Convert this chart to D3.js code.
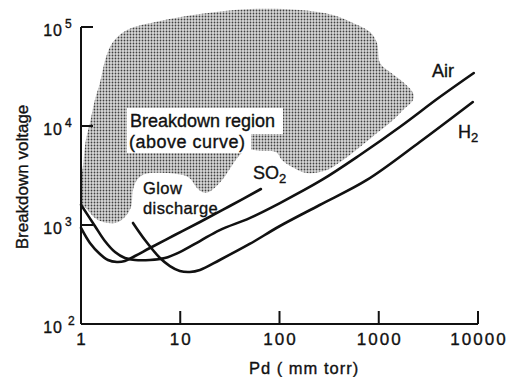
<!DOCTYPE html>
<html>
<head>
<meta charset="utf-8">
<script src="https://cdn.jsdelivr.net/npm/d3@7"></script>
<style>
  body { margin: 0; background: #fff; }
  svg { display: block; font-family: "Liberation Sans", Arial, sans-serif; }
  text { fill: #111; stroke: #111; stroke-width: 0.35px; }
</style>
</head>
<body>
<svg id="chart" width="511" height="377"></svg>
<script>
// axis ticks
const xTicks = [1, 10, 100, 1000, 10000];
const xTickLabels = ["1", "10", "100", "1000", "10000"];
const yTicks = [100, 1000, 10000, 100000];
const yTickExps = ["2", "3", "4", "5"];

// Paschen curves, Pd in mm torr, V in volts
const airPd = [1, 1.38, 1.74, 2.2, 2.77, 3.5, 4.95, 7.0, 9.9, 15.8, 25, 50, 101, 267, 646, 1630, 4120, 9070];
const airV  = [1600, 977, 689, 533, 464, 443, 443, 464, 533, 689, 889, 1175, 1667, 2850, 5090, 9770, 19600, 34300];

const so2Pd = [1, 1.23, 1.55, 1.87, 2.3, 2.77, 3.5, 4.95, 8.8, 15.8, 31.6, 65];
const so2V  = [933, 658, 509, 443, 423, 433, 486, 586, 792, 1072, 1556, 2310];

const h2Pd = [3.34, 4.41, 6.25, 7.87, 9.9, 12.5, 15.8, 25, 50, 101, 254, 760, 2590, 8870];
const h2V  = [1048, 705, 464, 385, 343, 335, 351, 443, 643, 977, 1592, 2850, 6890, 17460];

// outline of the shaded breakdown region
const regionPd = [1, 1.12, 1.48, 2.2, 2.77, 3.19, 3.34, 3.66, 4.41, 7.02, 11.97, 15.1, 17.8, 20.9, 26.4, 32.5, 38.2, 45.9, 66.6, 92.2, 106, 134, 189, 301, 436, 647, 960, 1393, 1755, 2213, 2213, 1755, 1298, 1030, 960, 816, 550, 346, 161, 50.5, 15.8, 6.25, 2.91, 2.10, 1.79, 1.55, 1.38, 1.23, 1.12, 1.05, 1];
const regionV  = [1667, 1486, 1125, 1048, 1205, 1520, 2259, 2851, 3275, 3350, 3055, 2311, 2105, 2259, 2851, 3857, 4866, 5728, 5590, 5460, 4539, 3857, 3350, 3594, 4539, 6138, 8490, 11510, 14520, 18330, 21540, 27800, 35080, 43250, 68850, 88920, 109700, 132100, 148600, 152100, 135200, 115100, 93300, 70470, 49770, 27160, 18330, 10720, 7225, 4036, 2851];

const svg = d3.select("#chart");

const x = d3.scaleLog().domain([1, 10000]).range([81, 478]);
const y = d3.scaleLog().domain([100, 100000]).range([324, 27]);

// stipple pattern
const pat = svg.append("defs").append("pattern")
  .attr("id", "stipple")
  .attr("width", 3).attr("height", 3)
  .attr("patternUnits", "userSpaceOnUse");
pat.append("rect").attr("width", 3).attr("height", 3).attr("fill", "#d8d8d8");
pat.append("circle").attr("cx", 1.5).attr("cy", 1.5).attr("r", 0.9).attr("fill", "#404040");

const region = d3.zip(regionPd, regionV);
svg.append("path")
  .datum(region)
  .attr("d", d3.line().x(d => x(d[0])).y(d => y(d[1])).curve(d3.curveCatmullRomClosed))
  .attr("fill", "url(#stipple)");

// white box behind the region label
svg.append("rect").attr("x", 127).attr("y", 108).attr("width", 156).attr("height", 26).attr("fill", "#fff");
svg.append("rect").attr("x", 127).attr("y", 133).attr("width", 124).attr("height", 20).attr("fill", "#fff");

// curves
const line = d3.line().x(d => x(d[0])).y(d => y(d[1])).curve(d3.curveCatmullRom.alpha(0.5));
[[airPd, airV], [so2Pd, so2V], [h2Pd, h2V]].forEach(([p, v]) => {
  svg.append("path")
    .datum(d3.zip(p, v))
    .attr("d", line)
    .attr("fill", "none")
    .attr("stroke", "#111")
    .attr("stroke-width", 2.6)
    .attr("stroke-linecap", "round");
});

// axes
const axisColor = "#111";
svg.append("line").attr("x1", x(1)).attr("x2", x(1)).attr("y1", y(100000)).attr("y2", y(100))
  .attr("stroke", axisColor).attr("stroke-width", 2);
svg.append("line").attr("x1", x(1)).attr("x2", x(10000)).attr("y1", y(100)).attr("y2", y(100))
  .attr("stroke", axisColor).attr("stroke-width", 2);

svg.selectAll(".xtick").data(xTicks.slice(1)).enter().append("line")
  .attr("x1", d => x(d)).attr("x2", d => x(d))
  .attr("y1", y(100)).attr("y2", y(100) - 13)
  .attr("stroke", axisColor).attr("stroke-width", 2);

svg.selectAll(".ytick").data(yTicks.slice(1)).enter().append("line")
  .attr("x1", x(1)).attr("x2", x(1) + 12)
  .attr("y1", d => y(d)).attr("y2", d => y(d))
  .attr("stroke", axisColor).attr("stroke-width", 2);

svg.selectAll(".xlab").data(xTicks).enter().append("text")
  .attr("x", d => x(d) + 1).attr("y", 345)
  .attr("text-anchor", "middle")
  .attr("font-size", 17).attr("letter-spacing", 2)
  .text((d, i) => xTickLabels[i]);

svg.selectAll(".ylab").data(yTicks).enter().append("text")
  .attr("x", 63).attr("y", d => y(d) + 9)
  .attr("text-anchor", "end")
  .attr("font-size", 16).attr("letter-spacing", 1)
  .text("10");

svg.selectAll(".yexp").data(yTicks).enter().append("text")
  .attr("x", (d, i) => i === 0 ? 68 : 65).attr("y", d => y(d) + 1)
  .attr("font-size", 12)
  .text((d, i) => yTickExps[i]);

svg.append("text")
  .attr("x", 249).attr("y", 374)
  .attr("font-size", 16.5).attr("letter-spacing", 1)
  .text("Pd ( mm torr)");

svg.append("text")
  .attr("transform", "translate(28,177) rotate(-90)")
  .attr("text-anchor", "middle")
  .attr("font-size", 17)
  .text("Breakdown voltage");

// annotations
const ann = svg.append("g").attr("font-size", 18);
ann.append("text").attr("x", 130).attr("y", 127).text("Breakdown region");
ann.append("text").attr("x", 129).attr("y", 148).attr("letter-spacing", 0.5).text("(above curve)");
ann.append("text").attr("x", 143).attr("y", 194).attr("font-size", 16.5).attr("letter-spacing", 0.4).text("Glow");
ann.append("text").attr("x", 143).attr("y", 214).attr("font-size", 16.5).attr("letter-spacing", 0.4).text("discharge");
const so2 = ann.append("text").attr("x", 253).attr("y", 179);
so2.append("tspan").text("SO");
so2.append("tspan").attr("font-size", 13).attr("dy", 4).text("2");
ann.append("text").attr("x", 432).attr("y", 77).text("Air");
const h2 = ann.append("text").attr("x", 458).attr("y", 138);
h2.append("tspan").text("H");
h2.append("tspan").attr("font-size", 13).attr("dy", 4).text("2");
</script>
</body>
</html>
